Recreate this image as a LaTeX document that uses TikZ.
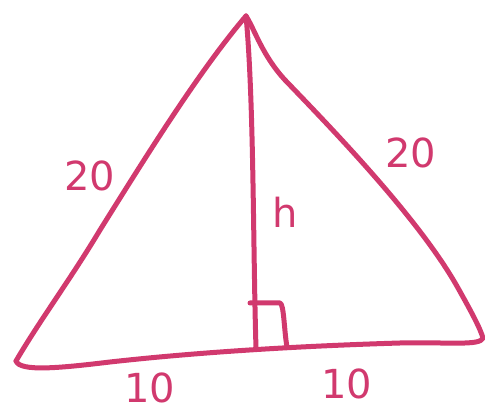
\documentclass[tikz,border=0pt]{standalone}
\usepackage{fontspec}
\setmainfont{DejaVu Sans}
\definecolor{ink}{HTML}{D1396E}
\begin{document}
\begin{tikzpicture}[x=1pt,y=-1pt,
  stroke/.style={draw=ink,line width=5pt,line cap=round,line join=round},
  lbl/.style={text=ink,font=\fontsize{40}{40}\selectfont,inner sep=0pt}]
\useasboundingbox (0,0) rectangle (485,411);
\coordinate (A) at (246,16);
\coordinate (B) at (16,361);
\coordinate (C) at (483,338);
\coordinate (F) at (256,348);
% left side
\draw[stroke] (A) .. controls (200,70) and (150,150) .. (100,230)
  .. controls (70,280) and (40,320) .. (B);
% base
\draw[stroke] (B) .. controls (20,372) and (60,368) .. (110,362)
  .. controls (200,352) and (300,346) .. (400,343)
  .. controls (450,342) and (480,346) .. (C);
% right side
\draw[stroke] (A) .. controls (255,30) and (262,55) .. (285,80)
  .. controls (335,132) and (420,220) .. (458,288)
  .. controls (472,313) and (480,328) .. (C);
% altitude
\draw[stroke] (A) .. controls (254,100) and (253,250) .. (F);
% right angle mark
\draw[stroke] (250,303) -- (280,303) .. controls (284,304) and (284,330) .. (287,347);
% labels
\node[lbl] (l20) at (90,176) {20};
\node[lbl] (r20) at (411,153) {20};
\node[lbl] (h) at (285,212) {h};
\node[lbl] (b1) at (150,388) {10};
\node[lbl] (b2) at (347,384) {10};
\end{tikzpicture}
\end{document}
